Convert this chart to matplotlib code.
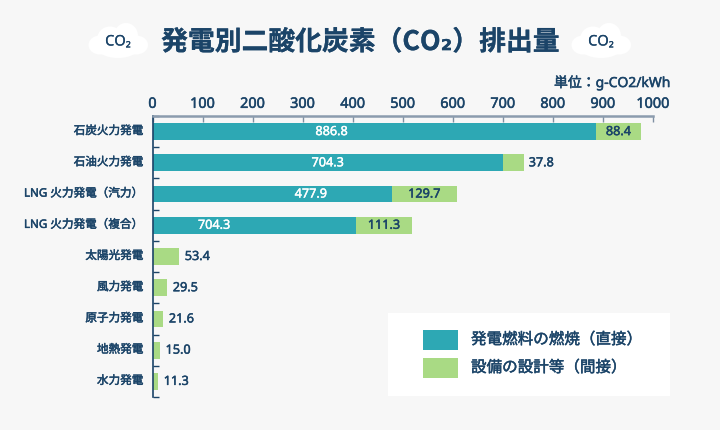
import matplotlib
matplotlib.use('Agg')
import matplotlib.pyplot as plt
import matplotlib.patheffects as pe
from matplotlib.patches import Ellipse, Rectangle

plt.rcParams['font.family'] = ['Noto Sans', 'Noto Sans CJK JP', 'DejaVu Sans']

# data
categories = ['石炭火力発電', '石油火力発電', 'LNG 火力発電（汽力）', 'LNG 火力発電（複合）',
              '太陽光発電', '風力発電', '原子力発電', '地熱発電', '水力発電']
direct_len = [886.8, 700.5, 477.9, 406.5, 0, 0, 0, 0, 0]   # drawn bar length
direct_lab = ['886.8', '704.3', '477.9', '704.3', '', '', '', '', '']
indirect = [88.4, 41.5, 129.7, 111.3, 53.4, 29.5, 21.6, 15.0, 11.3]   # drawn bar length
indirect_lab = ['88.4', '37.8', '129.7', '111.3', '53.4', '29.5', '21.6', '15.0', '11.3']
xticks = [0, 100, 200, 300, 400, 500, 600, 700, 800, 900, 1000]

# where the white labels sit in the teal bars, x axis units
white_label_x = [358, 350, 316, 123]

NAVY = '#1b4468'
TEAL = '#2da8b4'
GREEN = '#a9da84'
BG = '#f7f7f7'
W, H = 720, 430

# the installed Noto Sans has no heavier weight, thicken it with a stroke
heavy = [pe.withStroke(linewidth=0.35, foreground=NAVY)]
heavy_w = [pe.withStroke(linewidth=0.3, foreground='white')]
light = [pe.withStroke(linewidth=0.15, foreground=NAVY)]

fig = plt.figure(figsize=(W / 100, H / 100), dpi=100, facecolor=BG)

# overlay in pixel coords for title, clouds and legend
bg = fig.add_axes([0, 0, 1, 1])
bg.set_xlim(0, W)
bg.set_ylim(H, 0)
bg.axis('off')


def cloud(cx, cy):
    for dx, dy, w, h in [(0, 4, 46, 26), (-18, 4, 23, 19), (18, 4, 24, 19),
                         (-8, -3, 25, 23), (8, -5, 24, 26)]:
        bg.add_patch(Ellipse((cx + dx, cy + dy), w, h, fc='white', ec='none'))
    bg.text(cx, cy + 1, 'CO₂', color=NAVY, fontsize=10.5, ha='center', va='center',
            path_effects=light)


cloud(118, 41)
cloud(601, 41)
bg.text(360, 42, '発電別二酸化炭素（CO₂）排出量', color=NAVY, fontsize=19.3,
        family=['Noto Sans CJK JP', 'DejaVu Sans'], fontweight='bold', ha='center', va='center',
        path_effects=light)
bg.text(670, 83, '単位：g-CO2/kWh', color=NAVY, fontsize=10, ha='right', va='center',
        path_effects=heavy)

# legend box
bg.add_patch(Rectangle((388, 313), 282, 83, fc='white', ec='none'))
bg.add_patch(Rectangle((423, 330), 35, 20, fc=TEAL, ec='none'))
bg.add_patch(Rectangle((423, 358), 35, 20, fc=GREEN, ec='none'))
bg.text(471, 340, '発電燃料の燃焼（直接）', color=NAVY, fontsize=11.2, va='center', path_effects=heavy)
bg.text(471, 368, '設備の設計等（間接）', color=NAVY, fontsize=11.2, va='center', path_effects=heavy)

# main chart
ax = fig.add_axes([152.5 / W, 1 - 397 / H, 500.5 / W, 281 / H])
ax.patch.set_alpha(0)
y = list(range(len(categories)))
ax.barh(y, direct_len, height=0.54, color=TEAL)
ax.barh(y, indirect, left=direct_len, height=0.54, color=GREEN)
ax.set_xlim(0, 1000)
ax.set_ylim(len(categories) - 0.5, -0.5)

ax.xaxis.tick_top()
ax.set_xticks(xticks)
ax.tick_params(axis='x', direction='in', length=4, width=1, color='#7f90a3',
               labelcolor=NAVY, labelsize=10.4, pad=3)
for lab in ax.get_xticklabels():
    lab.set_path_effects(heavy)
ax.set_yticks([i - 0.5 for i in y] + [len(y) - 0.5])
ax.set_yticklabels([])
ax.tick_params(axis='y', direction='in', length=4, width=1, color=NAVY)

for s in ['right', 'bottom']:
    ax.spines[s].set_visible(False)
ax.spines['top'].set_color('#8c9cae')
ax.spines['top'].set_linewidth(1.8)
ax.spines['left'].set_color(NAVY)
ax.spines['left'].set_linewidth(1.2)

for i, name in enumerate(categories):
    ax.annotate(name, (0, i), xytext=(-6.5, 0), textcoords='offset points', ha='right', va='center',
                color=NAVY, fontsize=8.35, path_effects=heavy, annotation_clip=False)
    d = direct_len[i]
    v = indirect[i]
    if direct_lab[i]:
        ax.text(white_label_x[i], i, direct_lab[i], color='white', fontsize=9.1,
                ha='center', va='center', path_effects=heavy_w)
    if i == 1:
        # small bar, label sits outside
        ax.annotate(indirect_lab[i], (d + v, i), xytext=(3.5, 0), textcoords='offset points',
                    color=NAVY, fontsize=9.1, va='center', path_effects=heavy)
    elif d > 0:
        ax.text(d + v / 2, i, indirect_lab[i], color=NAVY, fontsize=9.1,
                ha='center', va='center', path_effects=heavy)
    else:
        ax.annotate(indirect_lab[i], (v, i), xytext=(4, 0), textcoords='offset points',
                    color=NAVY, fontsize=9.1, va='center', path_effects=heavy)

fig.savefig('out.png', dpi=100, facecolor=BG)
